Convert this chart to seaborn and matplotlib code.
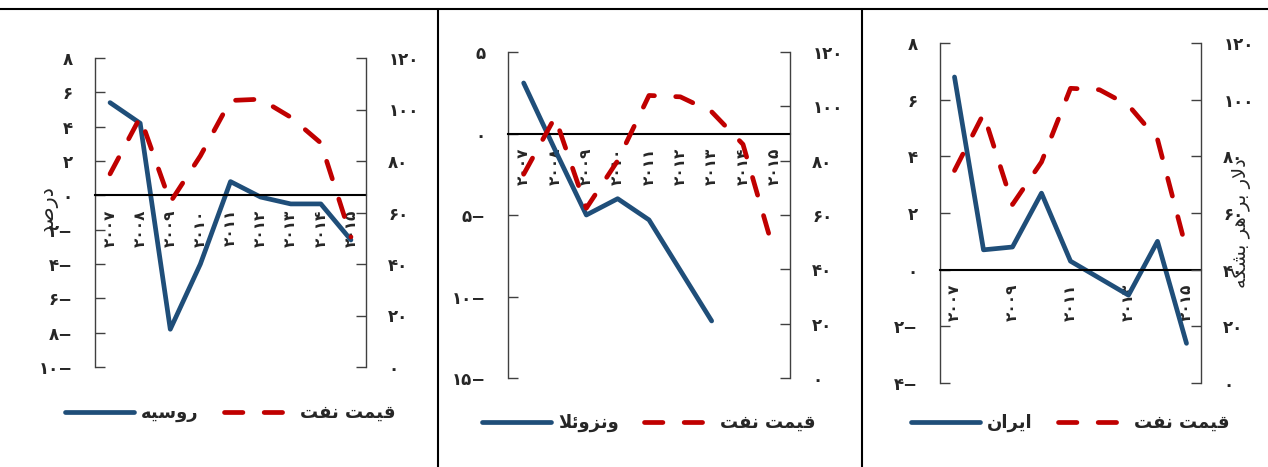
import numpy as np
import matplotlib
matplotlib.use("Agg")
import matplotlib.pyplot as plt
import seaborn as sns
from matplotlib.lines import Line2D

sns.set_style("white")
plt.rcParams["font.family"] = ["DejaVu Sans"]
plt.rcParams["font.weight"] = "bold"

# Persian labels written in shaped, visual (left-to-right) order,
# because matplotlib does no Arabic shaping or bidi reordering itself
OIL_LABEL = "\uFE96\uFED4\uFEE7 \uFE96\uFEE4\uFEF4\uFED7"          # قیمت نفت
RUSSIA_LABEL = "\uFEEA\uFEF4\uFEB3\uFEED\uFEAD"                    # روسیه
VENEZUELA_LABEL = "\uFEFC\uFE8B\uFEED\uFEB0\uFEE7\uFEED"           # ونزوئلا
IRAN_LABEL = "\uFEE5\uFE8D\uFEAE\uFEF3\uFE8D"                      # ایران
PERCENT_LABEL = "\uFEAA\uFEBB\uFEAD\uFEA9"                         # درصد
DOLLAR_LABEL = "\uFEEA\uFEDC\uFEB8\uFE91 \uFEAE\uFEEB \uFEAE\uFE91 \uFEAD\uFEFB\uFEA9"  # دلار بر هر بشکه

# data
years = ["۲۰۰۷", "۲۰۰۸", "۲۰۰۹", "۲۰۱۰", "۲۰۱۱", "۲۰۱۲", "۲۰۱۳", "۲۰۱۴", "۲۰۱۵"]

russia_gdp = [5.4, 4.2, -7.8, -4.0, 0.8, -0.1, -0.5, -0.5, -2.6]
russia_oil = [75, 97, 64, 82, 103.5, 104, 97, 87, 50.5]

venezuela_gdp = [3.1, -1.0, -5.0, -4.0, -5.3, -8.4, -11.5, np.nan, np.nan]
venezuela_oil = [75, 96, 62.5, 80, 104, 103.5, 98, 86, 46]

iran_gdp = [6.8, 0.7, 0.8, 2.7, 0.3, -0.3, -0.9, 1.0, -2.6]
iran_oil = [75, 95, 63, 78, 104, 103.5, 98, 86, 47]

russia_ticks = [-10, -8, -6, -4, -2, 0, 2, 4, 6, 8]
venezuela_ticks = [-15, -10, -5, 0, 5]
iran_ticks = [-4, -2, 0, 2, 4, 6, 8]
oil_ticks = [0, 20, 40, 60, 80, 100, 120]

BLUE = "#1F4E79"
RED = "#C00000"
FA_DIGITS = str.maketrans("0123456789", "۰۱۲۳۴۵۶۷۸۹")


def fa(v):
    s = str(abs(int(v))).translate(FA_DIGITS)
    return s + "\u2212" if v < 0 else s


fig = plt.figure(figsize=(12.68, 4.67), dpi=100)
x = np.arange(len(years))


def draw_panel(rect, gdp, oil, name, gdp_ticks, year_step, legend_y,
               left_label=False, right_label=False):
    ax = fig.add_axes(rect)
    ax2 = ax.twinx()
    sns.lineplot(x=x, y=gdp, ax=ax, color=BLUE, linewidth=3.4,
                 solid_capstyle="round", label=name)
    sns.lineplot(x=x, y=oil, ax=ax2, color=RED, linewidth=3.4,
                 linestyle=(0, (3.9, 4.5)), dash_capstyle="round", label=OIL_LABEL)
    for a in (ax, ax2):
        if a.get_legend() is not None:
            a.get_legend().remove()

    ax.set_xlim(-0.5, len(years) - 0.5)
    ax.set_ylim(gdp_ticks[0], gdp_ticks[-1])
    ax.set_yticks(gdp_ticks)
    ax.set_yticklabels([fa(t) for t in gdp_ticks])
    ax2.set_ylim(0, 120)
    ax2.set_yticks(oil_ticks)
    ax2.set_yticklabels([fa(t) for t in oil_ticks])
    ax.set_xticks(x[::year_step])
    ax.set_xticklabels(years[::year_step])

    ax.tick_params(axis="x", length=0, pad=10, labelsize=11, labelrotation=90)
    for a in (ax, ax2):
        a.tick_params(axis="y", direction="in", length=7, width=1,
                      color="#404040", pad=16, labelsize=12)

    ax.spines["bottom"].set_position(("data", 0))
    ax.spines["bottom"].set_linewidth(1.5)
    ax.spines["bottom"].set_color("black")
    ax.spines["left"].set_color("#404040")
    ax.spines["left"].set_linewidth(1)
    for s in ("top", "right"):
        ax.spines[s].set_visible(False)
    for s in ("top", "bottom", "left"):
        ax2.spines[s].set_visible(False)
    ax2.spines["right"].set_color("#404040")
    ax2.spines["right"].set_linewidth(1)
    ax.set_xlabel("")
    ax.set_ylabel("")
    ax2.set_ylabel("")

    if left_label:
        ax.set_ylabel(PERCENT_LABEL, fontsize=15, rotation=90, ha="center", va="center")
        ax.yaxis.set_label_coords(-0.175, 0.51)
    if right_label:
        ax2.set_ylabel(DOLLAR_LABEL, fontsize=14, rotation=90, ha="center", va="center")
        ax2.yaxis.set_label_coords(1.155, 0.47)

    ax2.legend(handles=[ax.lines[0], ax2.lines[0]], labels=[name, OIL_LABEL],
               loc="center", bbox_to_anchor=(0.5, legend_y), ncol=2, frameon=False,
               fontsize=13, handlelength=3.8, handletextpad=0.4, columnspacing=1.4)
    return ax, ax2


draw_panel([95 / 1268, 100 / 467, 271 / 1268, 309 / 467], russia_gdp, russia_oil,
           RUSSIA_LABEL, russia_ticks, 1, -0.149, left_label=True)
draw_panel([508 / 1268, 89 / 467, 282 / 1268, 326 / 467], venezuela_gdp, venezuela_oil,
           VENEZUELA_LABEL, venezuela_ticks, 1, -0.138)
draw_panel([940 / 1268, 84 / 467, 261 / 1268, 340 / 467], iran_gdp, iran_oil,
           IRAN_LABEL, iran_ticks, 2, -0.118, right_label=True)

# frame lines around the three panels
top = 1 - 9 / 467
fig.add_artist(Line2D([0, 1], [top, top], transform=fig.transFigure, color="black", lw=1.5))
for xv in (437.5 / 1268, 862 / 1268):
    fig.add_artist(Line2D([xv, xv], [0, top], transform=fig.transFigure, color="black", lw=1.5))

fig.savefig("out.png", dpi=100)
